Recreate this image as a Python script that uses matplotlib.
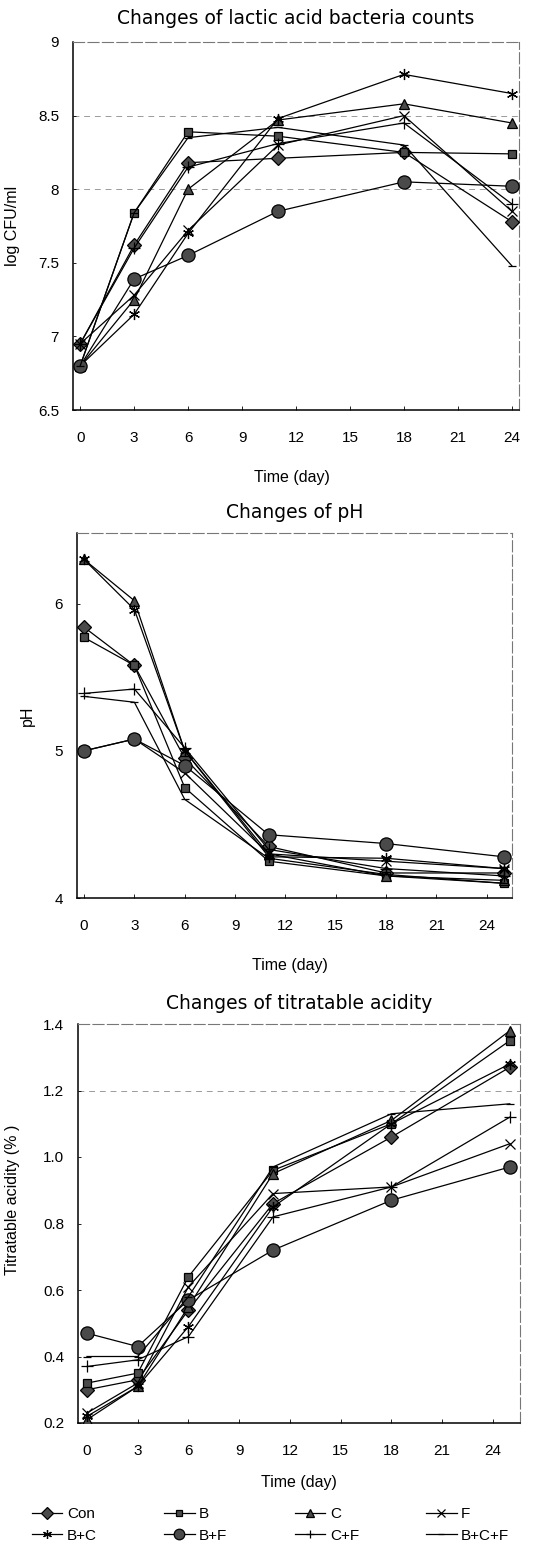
import numpy as np
import matplotlib
matplotlib.use('Agg')
import matplotlib.pyplot as plt
from matplotlib.lines import Line2D

# ---- data ----
groups = ['Con', 'B', 'C', 'F', 'B+C', 'B+F', 'C+F', 'B+C+F']
days_lab = [0, 3, 6, 11, 18, 24]
days = [0, 3, 6, 11, 18, 25]

lab_con = [6.95, 7.62, 8.18, 8.21, 8.25, 7.78]
lab_b = [6.80, 7.84, 8.39, 8.36, 8.25, 8.24]
lab_c = [6.80, 7.25, 8.00, 8.47, 8.58, 8.45]
lab_f = [6.95, 7.28, 7.72, 8.30, 8.50, 7.85]
lab_bc = [6.80, 7.15, 7.70, 8.48, 8.78, 8.65]
lab_bf = [6.80, 7.39, 7.55, 7.85, 8.05, 8.02]
lab_cf = [6.95, 7.60, 8.15, 8.31, 8.45, 7.90]
lab_bcf = [6.80, 7.84, 8.35, 8.42, 8.30, 7.48]

ph_con = [5.84, 5.58, 4.95, 4.35, 4.17, 4.17]
ph_b = [5.77, 5.58, 4.75, 4.25, 4.15, 4.10]
ph_c = [6.30, 6.02, 5.00, 4.30, 4.15, 4.12]
ph_f = [5.00, 5.08, 4.85, 4.30, 4.25, 4.20]
ph_bc = [6.30, 5.96, 5.00, 4.28, 4.27, 4.20]
ph_bf = [5.00, 5.08, 4.90, 4.43, 4.37, 4.28]
ph_cf = [5.39, 5.42, 5.02, 4.33, 4.20, 4.15]
ph_bcf = [5.37, 5.33, 4.67, 4.27, 4.16, 4.10]

ta_con = [0.30, 0.33, 0.54, 0.86, 1.06, 1.27]
ta_b = [0.32, 0.35, 0.64, 0.96, 1.10, 1.35]
ta_c = [0.21, 0.31, 0.55, 0.95, 1.11, 1.38]
ta_f = [0.23, 0.32, 0.61, 0.89, 0.91, 1.04]
ta_bc = [0.22, 0.31, 0.49, 0.85, 1.10, 1.28]
ta_bf = [0.47, 0.43, 0.57, 0.72, 0.87, 0.97]
ta_cf = [0.37, 0.39, 0.46, 0.82, 0.91, 1.12]
ta_bcf = [0.40, 0.40, 0.58, 0.97, 1.13, 1.16]

lab = [lab_con, lab_b, lab_c, lab_f, lab_bc, lab_bf, lab_cf, lab_bcf]
ph = [ph_con, ph_b, ph_c, ph_f, ph_bc, ph_bf, ph_cf, ph_bcf]
ta = [ta_con, ta_b, ta_c, ta_f, ta_bc, ta_bf, ta_cf, ta_bcf]

# ---- style ----
asterisk = (6, 2, 0)
mk = ['D', 's', '^', 'x', asterisk, 'o', '+', '_']
ms = [7.5, 6, 7, 7, 8, 9.5, 8, 6]
fc = '#4a4a4a'

tick_font = {'family': 'Liberation Sans', 'size': 11}
label_font = {'family': 'Liberation Sans', 'size': 11.5}
title_font = {'family': 'DejaVu Sans', 'size': 13.5}

fig = plt.figure(figsize=(5.38, 15.46), dpi=100)
W, H = 538.0, 1546.0


def make_ax(l, r, t, b):
    return fig.add_axes([l / W, 1 - b / H, (r - l) / W, (b - t) / H])


def draw(ax, x, series, title, ylabel, ylim, yticks, yfmt, xlim, grid_y,
         ylab_xy, xlab_xy, title_pad):
    for v in grid_y:
        ax.axhline(v, color='#9a9a9a', lw=0.7, ls=(0, (6, 5)), zorder=0)
    for i, s in enumerate(series):
        ax.plot(x, s, color='black', lw=0.9, marker=mk[i], ms=ms[i],
                mfc=fc, mec='black', mew=0.9, zorder=3)
    ax.set_xlim(*xlim)
    ax.set_ylim(*ylim)
    ax.set_xticks(range(0, 25, 3))
    ax.set_yticks(yticks)
    ax.set_yticklabels([yfmt.format(v) for v in yticks], fontdict=tick_font)
    ax.set_xticklabels([str(v) for v in range(0, 25, 3)], fontdict=tick_font)
    ax.tick_params(axis='x', direction='in', length=3, pad=15, width=0.6)
    ax.tick_params(axis='y', direction='in', length=2, pad=10, width=0.6)
    for sp in ['left', 'bottom']:
        ax.spines[sp].set_linewidth(1.1)
    for sp in ['top', 'right']:
        ax.spines[sp].set_color('#777777')
        ax.spines[sp].set_linewidth(0.8)
        ax.spines[sp].set_linestyle((0, (10, 3)))
    ax.set_title(title, fontdict=title_font, pad=title_pad)
    ax.set_ylabel(ylabel, fontdict=label_font)
    ax.yaxis.set_label_coords(*ylab_xy)
    ax.set_xlabel('Time (day)', fontdict=label_font)
    ax.xaxis.set_label_coords(*xlab_xy)


ax1 = make_ax(73, 519, 42, 410)
draw(ax1, days_lab, lab, 'Changes of lactic acid bacteria counts', 'log CFU/ml',
     (6.5, 9), [6.5, 7, 7.5, 8, 8.5, 9], '{:g}', (-0.4, 24.4), [8.0, 8.5],
     (-0.119, 0.5), (0.49, -0.163), 13)

ax2 = make_ax(77, 512, 533, 898)
draw(ax2, days, ph, 'Changes of pH', 'pH',
     (4, 6.48), [4, 5, 6], '{:g}', (-0.42, 25.5), [],
     (-0.097, 0.5), (0.49, -0.164), 11)

ax3 = make_ax(78, 520, 1024, 1423)
draw(ax3, days, ta, 'Changes of titratable acidity', 'Titratable acidity (% )',
     (0.2, 1.4), [0.2, 0.4, 0.6, 0.8, 1.0, 1.2, 1.4], '{:.1f}', (-0.53, 25.6), [1.2],
     (-0.131, 0.56), (0.5, -0.13), 11)

# legend: row 1 Con,B,C,F ; row 2 B+C,B+F,C+F,B+C+F (column-major order)
handles = [Line2D([], [], color='black', lw=0.9, marker=mk[i], ms=ms[i] * 0.8,
                  mfc=fc, mec='black', mew=0.9) for i in range(8)]
order = [0, 4, 1, 5, 2, 6, 3, 7]
fig.legend([handles[i] for i in order], [groups[i] for i in order], ncol=4,
           loc='center left', bbox_to_anchor=(24 / W, 1 - 1525 / H), frameon=False,
           prop={'family': 'Liberation Sans', 'size': 11}, handlelength=2.0,
           handletextpad=0.3, columnspacing=4.4, labelspacing=0.5, borderpad=0)

fig.savefig('out.png', dpi=100)
